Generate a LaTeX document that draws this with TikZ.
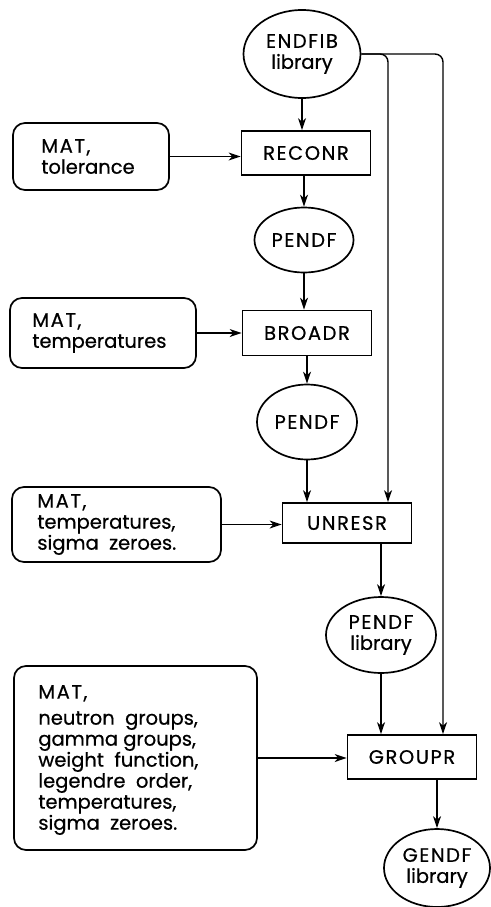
\documentclass[tikz,border=0pt]{standalone}
\usepackage{fontspec}
\setmainfont{Poppins}[FakeBold=0.6]
\newcommand{\capsp}[1]{{\addfontfeature{LetterSpace=8}#1}}
\usetikzlibrary{shapes.geometric,arrows.meta}
\begin{document}
\begin{tikzpicture}[x=1pt,y=-1pt,
 every node/.style={font=\fontsize{19.5}{21}\selectfont},
 proc/.style={draw,line width=1.7pt,minimum width=129pt,minimum height=44pt,inner sep=0pt},
 file/.style={draw,ellipse,line width=1.7pt,inner sep=0pt,align=center},
 inbox/.style={draw,rounded corners=12pt,line width=1.7pt,inner sep=0pt},
 intext/.style={align=left,anchor=west,inner sep=0pt},
 flow/.style={line width=1.4pt,-{Stealth[length=12pt,width=8pt,inset=3.5pt]}}]
\useasboundingbox (0,0) rectangle (490,907);
% main chain
\node[file,minimum width=117pt,minimum height=88pt] (endfib) at (302,54) {\capsp{ENDFIB}\\library};
\node[proc] (reconr) at (306,153) {\capsp{RECONR}};
\node[file,minimum width=99pt,minimum height=65pt] (pendf1) at (304,240) {\capsp{PENDF}};
\node[proc,minimum height=45pt] (broadr) at (307,333) {\capsp{BROADR}};
\node[file,minimum width=100pt,minimum height=75pt] (pendf2) at (307,422) {\capsp{PENDF}};
\node[proc,minimum height=40pt] (unresr) at (347,523) {\capsp{UNRESR}};
\node[file,minimum width=110pt,minimum height=76pt] (pendflib) at (381,635) {\capsp{PENDF}\\library};
\node[proc] (groupr) at (412,757) {\capsp{GROUPR}};
\node[file,minimum width=106pt,minimum height=78pt] (gendf) at (437,868) {\capsp{GENDF}\\library};
% input boxes
\node[inbox,minimum width=156pt,minimum height=67pt] (m1) at (91,156.5) {};
\node[intext] (m1t) at ([xshift=29pt]m1.west) {\capsp{MAT,}\\tolerance};
\node[inbox,minimum width=186pt,minimum height=70pt] (m2) at (103,333) {};
\node[intext] (m2t) at ([xshift=23pt]m2.west) {\capsp{MAT,}\\temperatures};
\node[inbox,minimum width=209pt,minimum height=75pt] (m3) at (116.5,524.5) {};
\node[intext] (m3t) at ([xshift=26pt]m3.west) {\capsp{MAT,}\\temperatures,\\sigma\ \ zeroes.};
\node[inbox,minimum width=243pt,minimum height=184pt] (m4) at (135.5,758) {};
\node[intext] (m4t) at ([xshift=25pt,yshift=-2pt]m4.west) {\capsp{MAT,}\\[5pt]neutron\ \ groups,\\gamma groups,\\weight\ \ function,\\legendre\ \ order,\\temperatures,\\sigma\ \ zeroes.};
% vertical flow
\draw[flow] (endfib.south) -- (endfib.south |- reconr.north);
\draw[flow] (reconr.south -| pendf1) -- (pendf1.north);
\draw[flow] (pendf1.south) -- (pendf1.south |- broadr.north);
\draw[flow] (broadr.south -| pendf2) -- (pendf2.north);
\draw[flow] (pendf2.south) -- (pendf2.south |- unresr.north);
\draw[flow] (unresr.south -| pendflib) -- (pendflib.north);
\draw[flow] (pendflib.south) -- (pendflib.south |- groupr.north);
\draw[flow] (groupr.south -| gendf) -- (gendf.north);
% inputs
\draw[flow] (m1.east) -- (reconr.west |- m1.east);
\draw[flow] (m2.east) -- (broadr.west |- m2.east);
\draw[flow] (m3.east) -- (unresr.west |- m3.east);
\draw[flow] (m4.east) -- (groupr.west |- m4.east);
% ENDFIB bypasses
\draw[flow,rounded corners=8pt] (endfib.east) -| ([xshift=41pt]unresr.north);
\draw[flow,rounded corners=8pt] (endfib.east) -| ([xshift=31pt]groupr.north);
\end{tikzpicture}
\end{document}
